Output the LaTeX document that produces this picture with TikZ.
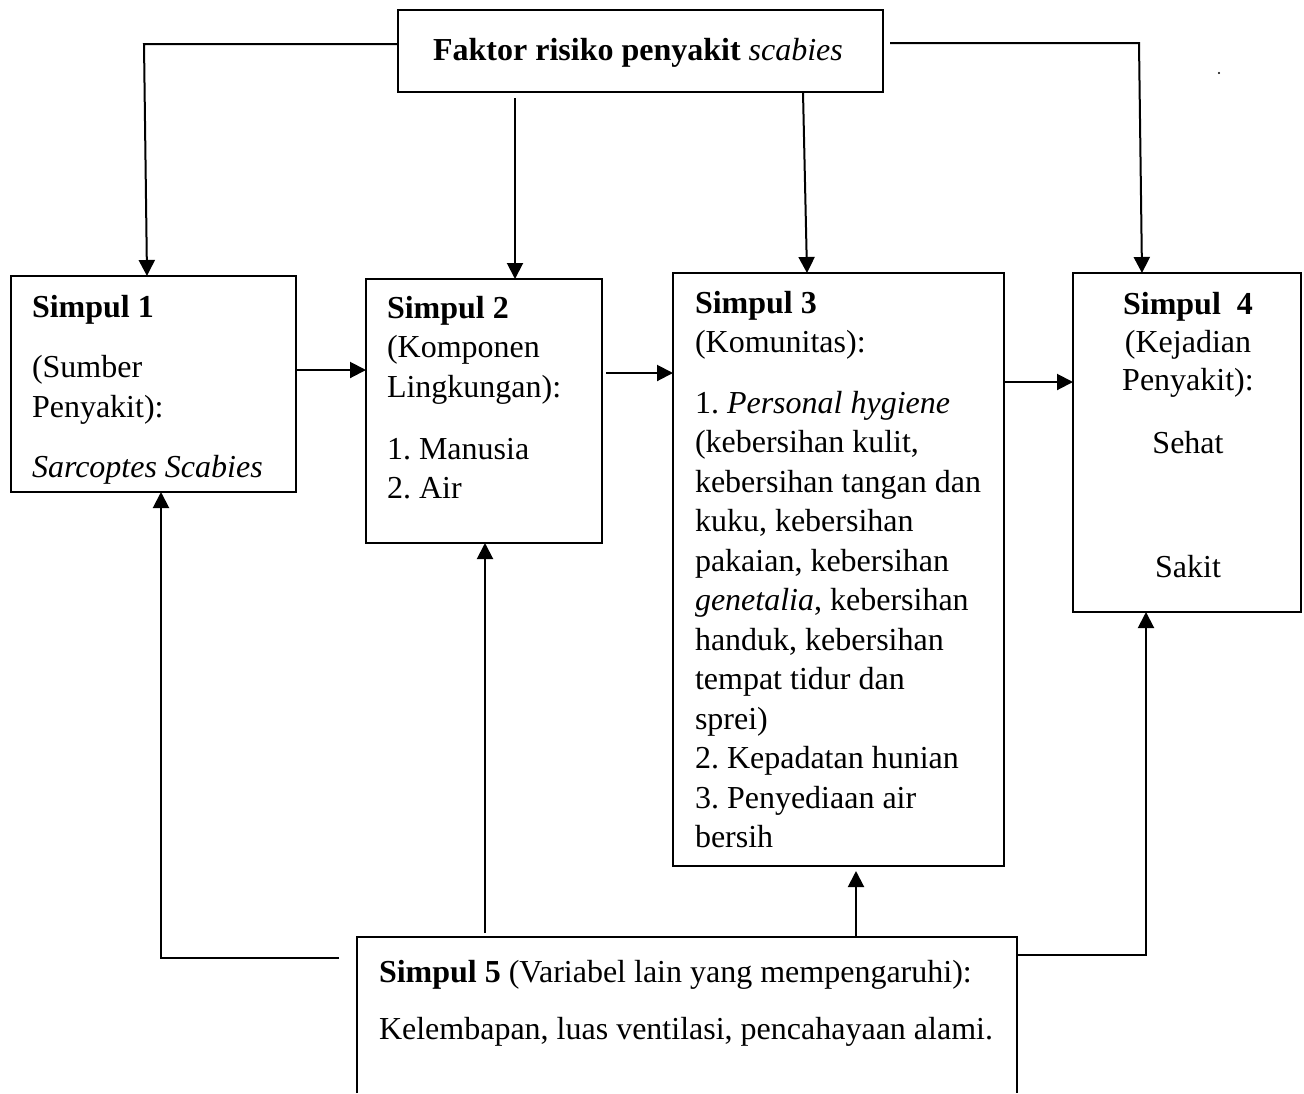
\documentclass[tikz,border=0pt]{standalone}
\usepackage{fontspec}
\setmainfont{Liberation Serif}
\usetikzlibrary{arrows.meta}
\frenchspacing
\begin{document}
\begin{tikzpicture}[x=1pt,y=-1pt,
  box/.style={draw, line width=2pt, rectangle, inner sep=0pt, outer sep=0pt, anchor=north west},
  arr/.style={line width=2pt, -{Triangle[width=16pt,length=16pt]}},
  txt/.style={inner sep=0pt, outer sep=0pt, anchor=base west, font=\fontsize{32}{39.5}\selectfont}
]
\useasboundingbox (0,0) rectangle (1304,1093);
\fill[white] (0,0) rectangle (1304,1093);

% boxes
\node[box, minimum width=485pt, minimum height=82pt] (top) at (398,10) {};
\node[box, minimum width=285pt, minimum height=216pt] (s1) at (11,276) {};
\node[box, minimum width=236pt, minimum height=264pt] (s2) at (366,279) {};
\node[box, minimum width=331pt, minimum height=593pt] (s3) at (673,273) {};
\node[box, minimum width=228pt, minimum height=339pt] (s4) at (1073,273) {};
\node[box, draw=none, minimum width=660pt, minimum height=156pt] (s5) at (357,937) {};
\draw[line width=2pt] (s5.south west) -- (s5.north west) -- (s5.north east) -- (s5.south east);

% texts
\node[txt, anchor=base] (t0) at (638,60) {\textbf{Faktor risiko penyakit} \textit{scabies}};
\node[txt] (t1) at (32,317) {\begin{minipage}[t]{260pt}\baselineskip=40pt
\textbf{Simpul 1}\\[20pt](Sumber\\Penyakit):\\[20pt]\textit{Sarcoptes Scabies}\end{minipage}};
\node[txt] (t2) at (387,318) {\begin{minipage}[t]{210pt}\baselineskip=39.5pt
\textbf{Simpul 2}\\(Komponen\\Lingkungan):\\[22.5pt]1. Manusia\\2. Air\end{minipage}};
\node[txt] (t3) at (695,313) {\begin{minipage}[t]{305pt}\baselineskip=39.5pt
\textbf{Simpul 3}\\[-0.5pt](Komunitas):\\[21.5pt]1. \textit{Personal hygiene}\\(kebersihan kulit,\\kebersihan tangan dan\\kuku, kebersihan\\pakaian, kebersihan\\\textit{genetalia}, kebersihan\\handuk, kebersihan\\tempat tidur dan\\sprei)\\2. Kepadatan hunian\\3. Penyediaan air\\bersih\end{minipage}};
\node[txt, anchor=base] (t4) at (1188,314) {\begin{minipage}[t]{220pt}\centering\baselineskip=38pt
\textbf{Simpul\ \ 4}\\(Kejadian\\Penyakit):\\[25pt]Sehat\\[86pt]Sakit\end{minipage}};
\node[txt] (t5) at (379,982) {\begin{minipage}[t]{630pt}\baselineskip=57pt
\textbf{Simpul 5} (Variabel lain yang mempengaruhi):\\Kelembapan, luas ventilasi, pencahayaan alami.\end{minipage}};

% helper coordinates
\coordinate (tlc) at (144,44);
\coordinate (tla) at (147,0);
\coordinate (trc) at (1139,43);
\coordinate (trb) at (1142,0);
\coordinate (m1) at (515,0);
\coordinate (m2) at (803,0);
\coordinate (m2b) at (807,0);
\coordinate (h1) at (0,370);
\coordinate (h2) at (0,373);
\coordinate (h3) at (0,382);
\coordinate (b1) at (161,958);
\coordinate (b2) at (485,0);
\coordinate (b3) at (856,871);
\coordinate (b4) at (1146,955);

% top connectors
\draw[arr] (top.west |- tlc) -- (tlc) -- (tla |- s1.north);
\draw[arr] (top.east |- trc) ++(7,0) -- (trc) -- (trb |- s4.north);
\draw[arr] (top.south -| m1) ++(0,6) -- (m1 |- s2.north);
\draw[arr] (top.south -| m2) -- (m2b |- s3.north);

% horizontal connectors
\draw[arr] (s1.east |- h1) -- (s2.west |- h1);
\draw[arr] (s2.east |- h2) ++(4,0) -- (s3.west |- h2);
\draw[arr] (s3.east |- h3) -- (s4.west |- h3);

% bottom connectors
\draw[arr] (s5.west |- b1) ++(-18,0) -- (b1) -- (b1 |- s1.south);
\draw[arr] (s5.north -| b2) ++(0,-4) -- (b2 |- s2.south);
\draw[arr] (s5.north -| b3) -- (b3);
\draw[arr] (s5.east |- b4) -- (b4) -- (b4 |- s4.south);

% stray dot
\fill (1219,73) circle (1.2pt);
\end{tikzpicture}
\end{document}
